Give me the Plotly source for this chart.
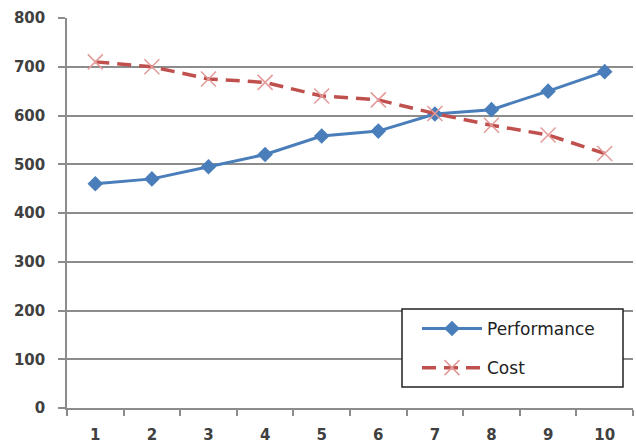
import plotly.graph_objects as go

# Series data
categories = ["1", "2", "3", "4", "5", "6", "7", "8", "9", "10"]
performance = [460, 470, 495, 520, 558, 568, 603, 612, 650, 690]
cost = [710, 700, 675, 668, 640, 632, 604, 580, 560, 522]
y_ticks = [0, 100, 200, 300, 400, 500, 600, 700, 800]

BLUE = "#4A7EBB"
RED = "#C0504D"
PINK = "#E39A98"
GRID = "#8C8C8C"
TEXT = "#404040"

fig = go.Figure()
fig.add_trace(go.Scatter(
    x=categories, y=performance, name="Performance", mode="lines+markers",
    line=dict(color=BLUE, width=3),
    marker=dict(symbol="diamond", size=12, color=BLUE),
    legendgroup="a",
))
fig.add_trace(go.Scatter(
    x=categories, y=cost, name="Cost", mode="lines+markers",
    line=dict(color=RED, width=3.5, dash="14px,8px"),
    marker=dict(symbol="x-thin-open", size=15, color=PINK,
                line=dict(color=PINK, width=1.5)),
    legendgroup="b",
))

# white framed box behind the legend entries
fig.add_shape(
    type="rect", xref="paper", yref="paper",
    x0=(402 - 67) / 566, x1=(623 - 67) / 566,
    y0=(408 - 387) / 390, y1=(408 - 309) / 390,
    line=dict(color="#222222", width=1.5), fillcolor="white", layer="above",
)

fig.update_layout(
    width=636, height=444,
    margin=dict(l=67, r=3, t=18, b=36),
    paper_bgcolor="white", plot_bgcolor="white",
    font=dict(family="DejaVu Sans, sans-serif", size=15, color=TEXT),
    showlegend=True,
    legend=dict(
        x=(417 - 67) / 566, y=(408 - 311) / 390, xanchor="left", yanchor="top",
        bgcolor="rgba(0,0,0,0)", borderwidth=0,
        font=dict(family="DejaVu Sans, sans-serif", size=17, color="#222222"),
        tracegroupgap=14, itemwidth=60,
    ),
)
fig.update_xaxes(
    type="category", range=[-0.5, len(categories) - 0.5],
    tickson="boundaries", ticks="outside", ticklen=6,
    tickcolor=GRID, tickwidth=1.5,
    showline=True, linecolor=GRID, linewidth=1.5, showgrid=False,
    tickfont=dict(size=15, color=TEXT, weight=700),
    ticklabelstandoff=12, automargin=False,
)
fig.update_yaxes(
    range=[0, 800], tickvals=y_ticks, ticks="outside", ticklen=7,
    tickcolor=GRID, tickwidth=1.5,
    showline=True, linecolor=GRID, linewidth=1.5,
    showgrid=True, gridcolor=GRID, gridwidth=1.5, zeroline=False,
    tickfont=dict(size=15, color=TEXT, weight=700),
    ticklabelstandoff=10, automargin=False,
)

fig.write_html("out.html")
